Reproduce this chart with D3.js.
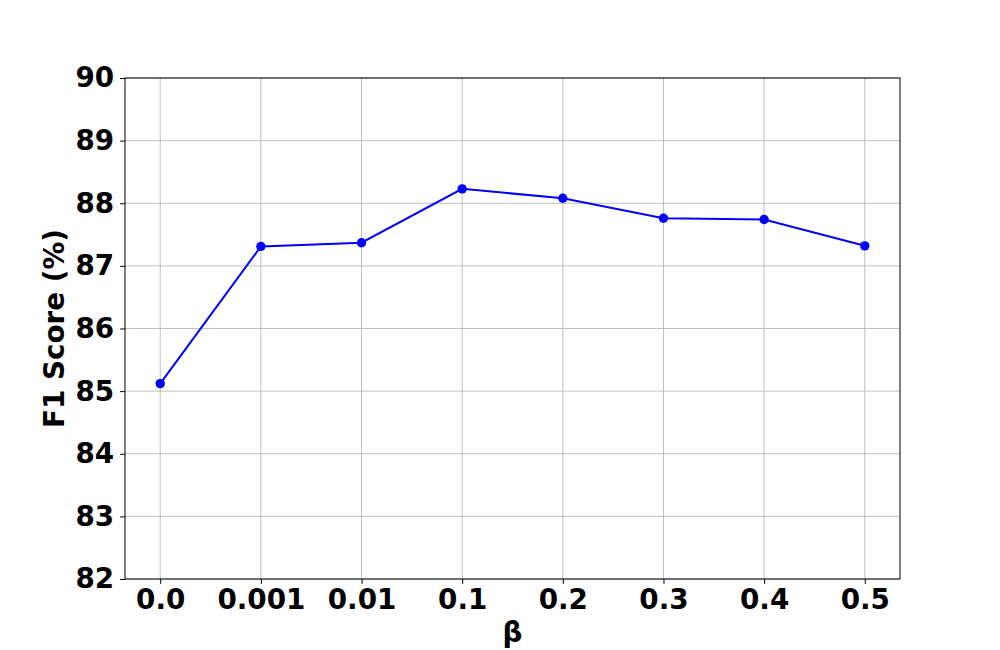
<!DOCTYPE html>
<html>
<head>
<meta charset="utf-8">
<script src="https://cdn.jsdelivr.net/npm/d3@7"></script>
<style>
  body { margin: 0; background: #fff; }
  text { font-family: "DejaVu Sans", sans-serif; font-weight: bold; }
</style>
</head>
<body>
<div id="chart"></div>
<script>
// data
var betaLabels = ["0.0", "0.001", "0.01", "0.1", "0.2", "0.3", "0.4", "0.5"];
var f1Scores = [85.12, 87.31, 87.37, 88.23, 88.08, 87.76, 87.74, 87.32];
var yTicks = [82, 83, 84, 85, 86, 87, 88, 89, 90];

var width = 1000,
    height = 650;

var margin = {left: 125, right: 100, top: 78, bottom: 71};
var innerW = width - margin.left - margin.right,
    innerH = height - margin.top - margin.bottom;

var svg = d3.select("#chart").append("svg")
  .attr("width", width)
  .attr("height", height);

var g = svg.append("g")
  .attr("transform", "translate(" + margin.left + "," + margin.top + ")");

var x = d3.scaleLinear()
  .domain([-0.35, betaLabels.length - 1 + 0.35])
  .range([0, innerW]);

var y = d3.scaleLinear()
  .domain([82, 90])
  .range([innerH, 0]);

// grid
g.append("g").selectAll("line.vg")
  .data(betaLabels)
  .enter().append("line")
  .attr("x1", function(d, i) { return x(i); })
  .attr("x2", function(d, i) { return x(i); })
  .attr("y1", 0).attr("y2", innerH)
  .style("stroke", "#b0b0b0").style("stroke-width", 0.8);

g.append("g").selectAll("line.hg")
  .data(yTicks)
  .enter().append("line")
  .attr("x1", 0).attr("x2", innerW)
  .attr("y1", function(d) { return y(d); })
  .attr("y2", function(d) { return y(d); })
  .style("stroke", "#b0b0b0").style("stroke-width", 0.8);

// axes
var xAxis = d3.axisBottom(x)
  .tickValues(d3.range(betaLabels.length))
  .tickFormat(function(i) { return betaLabels[i]; })
  .tickSize(4.9).tickPadding(5);

var yAxis = d3.axisLeft(y)
  .tickValues(yTicks)
  .tickSize(4.9).tickPadding(6);

var gx = g.append("g")
  .attr("transform", "translate(0," + innerH + ")")
  .call(xAxis);
var gy = g.append("g").call(yAxis);

[gx, gy].forEach(function(a) {
  a.select(".domain").remove();
  a.selectAll(".tick line").style("stroke", "#000").style("stroke-width", 1);
  a.selectAll(".tick text")
    .style("font-family", "DejaVu Sans")
    .style("font-weight", "bold")
    .style("font-size", "27.8px")
    .style("fill", "#000");
});

// frame
g.append("rect")
  .attr("width", innerW).attr("height", innerH)
  .style("fill", "none").style("stroke", "#000").style("stroke-width", 1);

// line
var line = d3.line()
  .x(function(d, i) { return x(i); })
  .y(function(d) { return y(d); });

g.append("path")
  .datum(f1Scores)
  .attr("d", line)
  .style("fill", "none")
  .style("stroke", "#0000ff")
  .style("stroke-width", 2);

g.selectAll("circle")
  .data(f1Scores)
  .enter().append("circle")
  .attr("cx", function(d, i) { return x(i); })
  .attr("cy", function(d) { return y(d); })
  .attr("r", 4.7)
  .style("fill", "#0000ff");

// labels
svg.append("text")
  .attr("x", margin.left + innerW / 2)
  .attr("y", 642)
  .attr("text-anchor", "middle")
  .style("font-size", "27.8px")
  .text("β");

svg.append("text")
  .attr("transform", "translate(64," + (margin.top + innerH / 2) + ") rotate(-90)")
  .attr("text-anchor", "middle")
  .style("font-size", "27.8px")
  .text("F1 Score (%)");
</script>
</body>
</html>
